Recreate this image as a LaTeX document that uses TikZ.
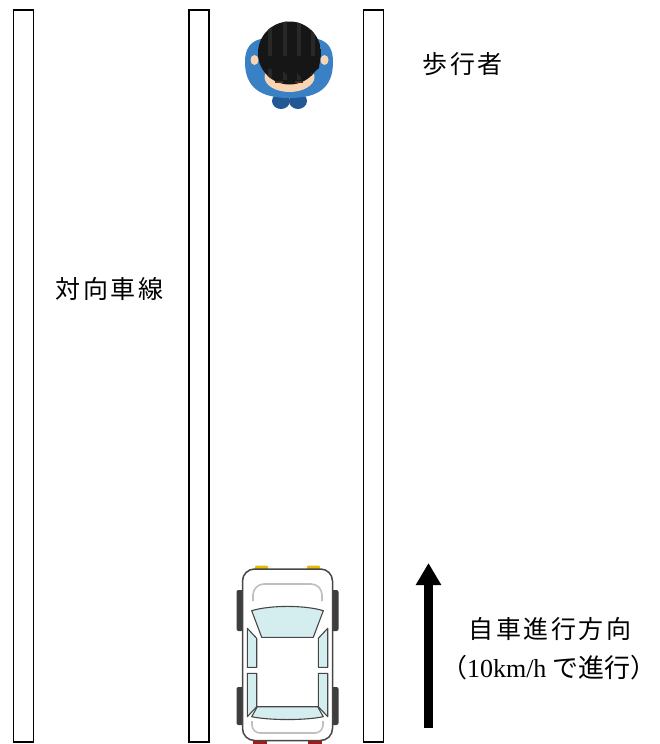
\documentclass[tikz,border=0pt]{standalone}
\usepackage{fontspec}
\setmainfont{Liberation Serif}
\newfontfamily\jp[LetterSpace=10]{Noto Sans CJK JP}
\newfontfamily\jpplain{Noto Sans CJK JP}
\usetikzlibrary{arrows.meta}

\definecolor{shirt}{RGB}{58,128,196}
\definecolor{shirtdark}{RGB}{34,88,148}
\definecolor{skin}{RGB}{248,212,178}
\definecolor{hair}{RGB}{22,22,22}
\definecolor{hairlight}{RGB}{40,40,40}
\definecolor{eye}{RGB}{70,45,35}
\definecolor{carline}{RGB}{70,70,70}
\definecolor{glass}{RGB}{212,238,240}
\definecolor{tyre}{RGB}{62,62,62}
\definecolor{headlamp}{RGB}{228,188,10}
\definecolor{taillamp}{RGB}{165,25,25}

\tikzset{
  curb/.style={draw=black, line width=1.3pt, fill=white},
  label/.style={font=\fontsize{25}{30}\selectfont\jp, inner sep=0pt},
  glasspane/.style={fill=glass, draw=carline, line width=1.1pt, line join=round},
  trimline/.style={draw=black!25, line width=1.6pt},
  wheel/.style={fill=tyre, rounded corners=2pt},
}

\begin{document}
\begin{tikzpicture}[x=1pt,y=-1pt]
\useasboundingbox (0,0) rectangle (659,744);

% lane dividers
\draw[curb] (13.3,10) rectangle (33.3,742);
\draw[curb] (189,10) rectangle (209,742);
\draw[curb] (363.5,10) rectangle (383.5,742);

% pedestrian seen from above
\fill[shirtdark] (281,101) ellipse (9 and 8);
\fill[shirtdark] (298,101) ellipse (9 and 8);
\fill[shirt] (245,62) .. controls (245,38) and (262,36) .. (289.5,38)
  .. controls (317,36) and (333,38) .. (333,62)
  .. controls (333,88) and (318,98) .. (289.5,98)
  .. controls (261,98) and (245,88) .. (245,62) -- cycle;
\fill[skin] (254.5,60) ellipse (4 and 5);
\fill[skin] (324.5,60) ellipse (4 and 5);
\fill[skin] (289.5,77) ellipse (25 and 15);
\begin{scope}
  \clip (289.5,53) circle (31.5);
  \fill[hair] (258,20) rectangle (321,90);
  \foreach \sx in {268,283,297,311}
    \fill[hairlight] (\sx,20) rectangle ++(4,60);
\end{scope}
\fill[hair] (258.5,56) -- (320.5,56) -- (319,68) -- (313,73) -- (307,70)
  -- (301,77) -- (295,71) -- (288,76) -- (282,70) -- (276,74)
  -- (270,68) -- (264,71) -- (260,64) -- cycle;
\draw[eye, line width=1.6pt] (275,82) -- (283,82);
\draw[eye, line width=1.6pt] (295,82) -- (303,82);

% car seen from above
\fill[wheel] (236.5,590) rectangle (243.5,631);
\fill[wheel] (331.5,590) rectangle (338.5,631);
\fill[wheel] (236.5,687) rectangle (243.5,725);
\fill[wheel] (331.5,687) rectangle (338.5,725);
\fill[headlamp, rounded corners=1pt] (255,565.5) rectangle (268,570);
\fill[headlamp, rounded corners=1pt] (307,565.5) rectangle (320,570);
\fill[taillamp] (253,738) rectangle (267,744);
\fill[taillamp] (308,738) rectangle (322,744);
\draw[fill=white, draw=carline, line width=1.5pt, rounded corners=12pt]
  (242.5,569) rectangle (332.5,740.5);
\draw[trimline, rounded corners=11pt] (253,601) -- (253,584) -- (322,584) -- (322,601);
\draw[trimline, rounded corners=8pt] (252,721) -- (252,733) -- (323,733) -- (323,721);
\draw[glasspane] (251.7,610.7) .. controls (270,605) and (305,605) .. (323.3,610.7)
  -- (313.3,637.3) -- (261.7,637.3) -- cycle;
\draw[glasspane] (247.3,628.3) -- (256.7,638.3) -- (256.7,667.3) -- (247.3,667.3) -- cycle;
\draw[glasspane] (327.7,628.3) -- (318.3,638.3) -- (318.3,667.3) -- (327.7,667.3) -- cycle;
\draw[glasspane] (247.3,673.3) -- (256.7,673.3) -- (256.7,706.7) -- (247.3,716.7) -- cycle;
\draw[glasspane] (327.7,673.3) -- (318.3,673.3) -- (318.3,706.7) -- (327.7,716.7) -- cycle;
\draw[glasspane] (257.3,706.7) -- (317.7,706.7) -- (323.3,716.7)
  .. controls (305,720.5) and (270,720.5) .. (251.7,716.7) -- cycle;

% direction of travel
\coordinate (tail) at (428.5,728);
\coordinate (tip) at (428.5,563);
\draw[line width=9pt, -{Triangle[length=22pt, width=24pt]}] (tail) -- (tip);

% labels
\node[label] (walker) at (462.5,64) {歩行者};
\node[label] (oncoming) at (109.5,289) {対向車線};
\node[label] (heading) at (550,629) {自車進行方向};
\node[inner sep=0pt, font=\fontsize{26}{32}\selectfont] (speed) at (549,668)
  {{\jpplain （}10km/h {\jpplain で進行）}};
\end{tikzpicture}
\end{document}
